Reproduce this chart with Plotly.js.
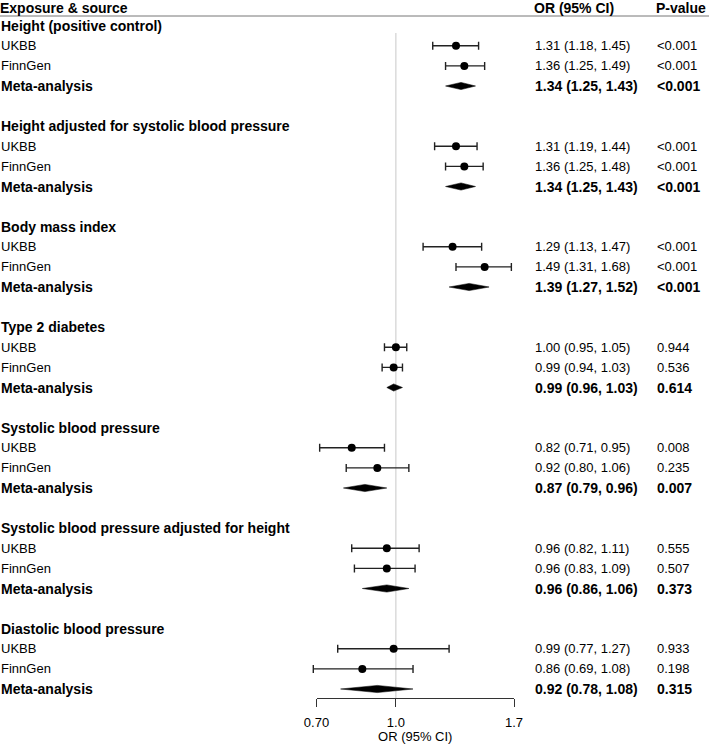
<!DOCTYPE html>
<html>
<head>
<meta charset="utf-8">
<script src="https://cdn.plot.ly/plotly-3.0.1.min.js"></script>
<style>html,body{margin:0;padding:0;background:#fff;}#chart{width:709px;height:744px;}</style>
</head>
<body>
<div id="chart"></div>
<script>
// ---- data ----
const groups = ["Height (positive control)", "Height adjusted for systolic blood pressure", "Body mass index", "Type 2 diabetes", "Systolic blood pressure", "Systolic blood pressure adjusted for height", "Diastolic blood pressure"];
const sources = ["UKBB", "FinnGen", "Meta-analysis"];
const ukbbOR = [1.31, 1.31, 1.29, 1.00, 0.82, 0.96, 0.99];
const ukbbLo = [1.18, 1.19, 1.13, 0.95, 0.71, 0.82, 0.77];
const ukbbHi = [1.45, 1.44, 1.47, 1.05, 0.95, 1.11, 1.27];
const ukbbP  = ["<0.001", "<0.001", "<0.001", "0.944", "0.008", "0.555", "0.933"];
const finnOR = [1.36, 1.36, 1.49, 0.99, 0.92, 0.96, 0.86];
const finnLo = [1.25, 1.25, 1.31, 0.94, 0.80, 0.83, 0.69];
const finnHi = [1.49, 1.48, 1.68, 1.03, 1.06, 1.09, 1.08];
const finnP  = ["<0.001", "<0.001", "<0.001", "0.536", "0.235", "0.507", "0.198"];
const metaOR = [1.34, 1.34, 1.39, 0.99, 0.87, 0.96, 0.92];
const metaLo = [1.25, 1.25, 1.27, 0.96, 0.79, 0.86, 0.78];
const metaHi = [1.43, 1.43, 1.52, 1.03, 0.96, 1.06, 1.08];
const metaP  = ["<0.001", "<0.001", "<0.001", "0.614", "0.007", "0.373", "0.315"];
const tickVals = [0.7, 1.0, 1.7];
const tickText = ["0.70", "1.0", "1.7"];
const headers = ["Exposure & source", "OR (95% CI)", "P-value"];

// ---- layout helpers ----
const W = 709, H = 744;
const FONT = "Liberation Sans, Arial, Helvetica, sans-serif";
const rowStart = 25.7, rowStep = 20.1;      // px
const px0 = 316.5, px1 = 514;               // px positions of 0.70 and 1.7
const k = (px1 - px0) / (Math.log10(1.7) - Math.log10(0.7));
const pxOne = px0 - k * Math.log10(0.7);
const xRange = [(-pxOne) / k, (W - pxOne) / k];
const yTop = -rowStart / rowStep, yBot = (H - rowStart) / rowStep;
const colOR = 533 / W, colP = 655 / W, colLab = -1 / W;

const rows = (g, s) => g * 5 + 1 + s;   // row index
const fmt = (e, l, h) => e.toFixed(2) + " (" + l.toFixed(2) + ", " + h.toFixed(2) + ")";

const traces = [];
function studyTrace(or, lo, hi, s) {
  return {
    type: "scatter", mode: "markers", xaxis: "x", yaxis: "y",
    x: or, y: or.map((_, g) => rows(g, s)),
    marker: {color: "#000", size: 8},
    error_x: {type: "data", symmetric: false,
      array: hi.map((h, i) => h - or[i]), arrayminus: lo.map((l, i) => or[i] - l),
      color: "#222", thickness: 1.4, width: 4},
    hoverinfo: "skip", showlegend: false
  };
}
traces.push(studyTrace(ukbbOR, ukbbLo, ukbbHi, 0));
traces.push(studyTrace(finnOR, finnLo, finnHi, 1));

// diamonds
const dh = 3.6 / rowStep;
const dx = [], dy = [];
metaOR.forEach((e, g) => {
  const r = rows(g, 2);
  dx.push(metaLo[g], e, metaHi[g], e, metaLo[g], null);
  dy.push(r, r - dh, r, r + dh, r, null);
});
traces.push({type: "scatter", mode: "lines", x: dx, y: dy, fill: "toself",
  fillcolor: "#000", line: {color: "#000", width: 0.5}, hoverinfo: "skip", showlegend: false});
// host trace for display axis
traces.push({type: "scatter", mode: "markers", x: [], y: [], xaxis: "x2", yaxis: "y", showlegend: false, hoverinfo: "skip"});

// annotations
const ann = [];
function txt(x, y, t, bold, pad) {
  ann.push({xref: "paper", yref: "y", x: x, y: y, text: bold ? "<b>" + t + "</b>" : t,
    xanchor: "left", yanchor: "middle", showarrow: false, borderpad: pad === undefined ? 1 : pad,
    font: {family: FONT, size: bold ? 14 : 13, color: "#000"}});
}
const hy = (8 - rowStart) / rowStep;
txt(colLab, hy, headers[0], true, 0);
txt(colOR, hy, headers[1], true, 0);
txt(colP, hy, headers[2], true, 0);
groups.forEach((gname, g) => {
  txt(colLab, rows(g, 0) - 1, gname, true);
  txt(colLab, rows(g, 0), sources[0], false);
  txt(colLab, rows(g, 1), sources[1], false);
  txt(colLab, rows(g, 2), sources[2], true);
  txt(colOR, rows(g, 0), fmt(ukbbOR[g], ukbbLo[g], ukbbHi[g]), false);
  txt(colOR, rows(g, 1), fmt(finnOR[g], finnLo[g], finnHi[g]), false);
  txt(colOR, rows(g, 2), fmt(metaOR[g], metaLo[g], metaHi[g]), true);
  txt(colP, rows(g, 0), ukbbP[g], false);
  txt(colP, rows(g, 1), finnP[g], false);
  txt(colP, rows(g, 2), metaP[g], true);
});

const axisY = 698;
const layout = {
  width: W, height: H,
  margin: {l: 0, r: 0, t: 0, b: 0, pad: 0},
  paper_bgcolor: "#fff", plot_bgcolor: "rgba(0,0,0,0)",
  showlegend: false,
  font: {family: FONT, size: 13, color: "#000"},
  xaxis: {type: "log", range: xRange, domain: [0, 1], visible: false, fixedrange: true},
  xaxis2: {type: "log", range: [Math.log10(0.7), Math.log10(1.7)],
    domain: [px0 / W, px1 / W], anchor: "free", position: (H - axisY) / H,
    showline: true, linecolor: "#333", linewidth: 1,
    ticks: "outside", ticklen: 8, tickcolor: "#333", tickwidth: 1,
    tickvals: tickVals, ticktext: tickText, ticklabelstandoff: 4,
    tickfont: {family: FONT, size: 13, color: "#000"},
    showgrid: false, zeroline: false, fixedrange: true,
    title: {text: "OR (95% CI)", font: {family: FONT, size: 13, color: "#000"}, standoff: 2}},
  yaxis: {range: [yBot, yTop], visible: false, fixedrange: true, domain: [0, 1]},
  shapes: [
    {type: "line", xref: "paper", yref: "paper", x0: 0, x1: 1, y0: (H - 16) / H, y1: (H - 16) / H,
      line: {color: "#777", width: 1}},
    {type: "line", xref: "x", yref: "paper", x0: 1, x1: 1, y0: (H - 33) / H, y1: (H - axisY) / H,
      line: {color: "#c8c8c8", width: 1}, layer: "below"}
  ],
  annotations: ann
};
Plotly.newPlot("chart", traces, layout, {displayModeBar: false, staticPlot: true});
</script>
</body>
</html>
